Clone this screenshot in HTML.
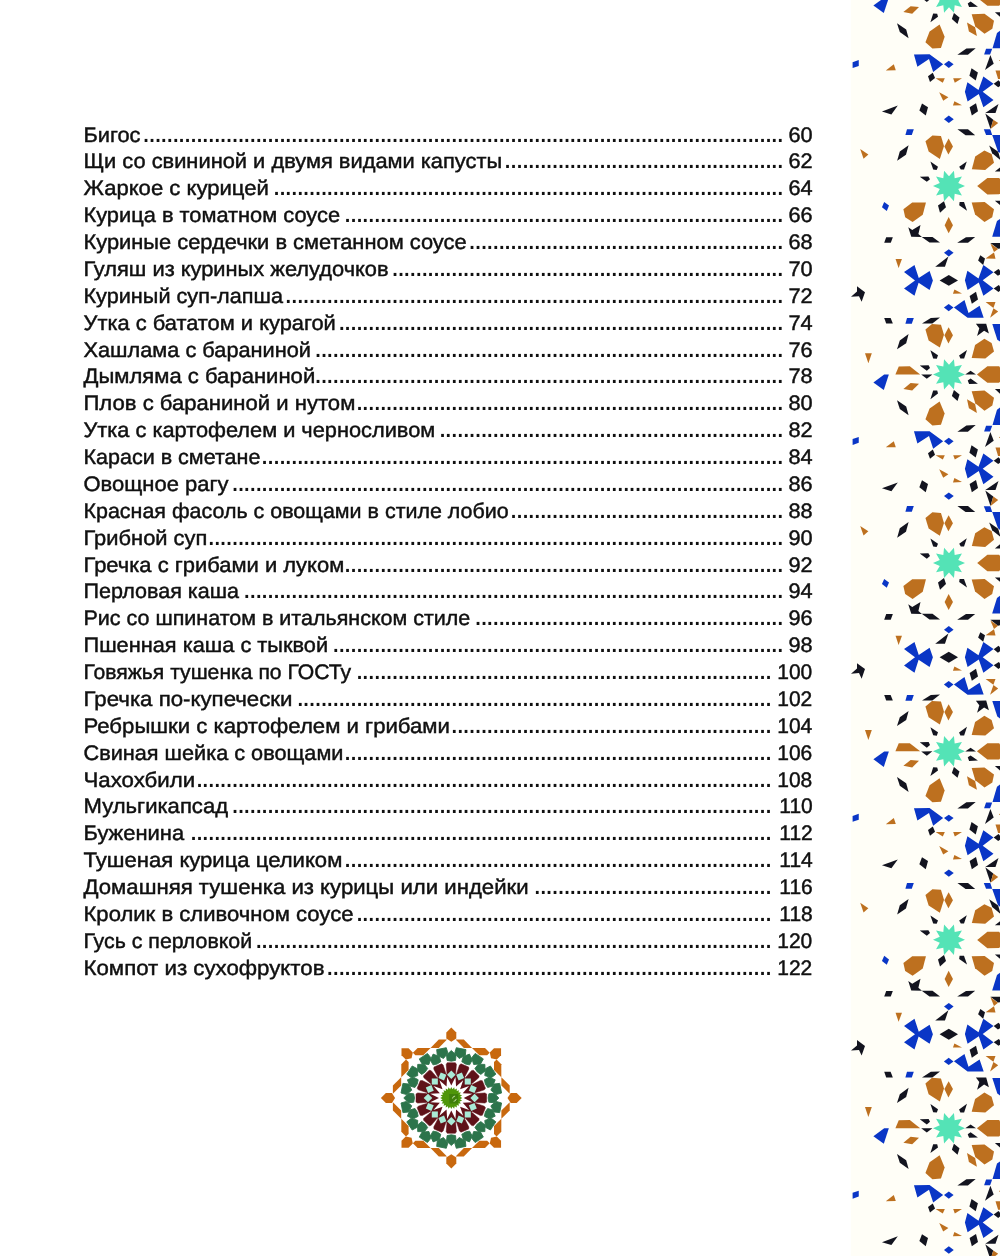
<!DOCTYPE html>
<html lang="ru"><head><meta charset="utf-8"><title>Содержание</title><style>
html,body{margin:0;padding:0;background:#fff}
body{width:1000px;height:1256px;position:relative;overflow:hidden;text-rendering:geometricPrecision;font-family:"Liberation Sans",sans-serif;color:#101010}
svg{position:absolute;left:0;top:0}
.r{position:absolute;left:0;width:1000px;height:0;font-size:21px;line-height:0}
#w{position:absolute;left:0;top:0;width:1000px;height:1256px;will-change:transform}
.r span{position:absolute;white-space:nowrap;line-height:1;top:-17px}
.t,.n{-webkit-text-stroke:0.45px #101010}
.t{transform-origin:0 100%}
.n{transform-origin:100% 100%}
.r .d{font-size:29px;letter-spacing:-2.13px;top:-23px}
</style></head><body>
<svg class="strip" width="1000" height="1256" viewBox="0 0 1000 1256">
<defs><g id="t"><polygon points="881.96,111.44 897.8,105.6 891.4,114.4" fill="#13141f"/><polygon points="907,129.2 913.8,129.2 911.8,134.96 905.4,134.96" fill="#0a36c6"/><polygon points="908.6,145.2 905.96,154.8 897.16,160.8 899.8,151.44" fill="#13141f"/><polygon points="860.2,149.04 868.36,154.4 863.56,158.64" fill="#bd701f"/><polygon points="939.2,92.24 948.4,97.36 943.2,100.8" fill="#bd701f"/><polygon points="954.4,101.2 962,105.2 952.96,105.6" fill="#bd701f"/><polygon points="922,103.44 928,107.2 925.76,115.44 919.36,110.4" fill="#13141f"/><polygon points="944,119.2 948.8,115.6 953.76,119.2 948.8,122.96" fill="#0a36c6"/><polygon points="957.44,129.2 968,129.2 975.2,135.2 965.6,135.2" fill="#13141f"/><polygon points="969.6,107.2 976,103.2 978,111.2 971.84,115.44" fill="#13141f"/><polygon points="925.44,141.2 932.4,135.44 940.96,136 944,146 939.84,158.96 928.64,151.6" fill="#bd701f"/><polygon points="948.64,138.4 952.96,146.4 948.4,154.4 944.4,146.4" fill="#bd701f"/><polygon points="975.2,156.4 984.4,150.4 991.6,154 994,162.8 985.2,170 971.84,169.2" fill="#bd701f"/><polygon points="930.4,161.6 938,166.8 936.64,170 933.2,169.6" fill="#13141f"/><polygon points="966.8,161.44 964,169.6 960.8,169.6 959.2,166.8" fill="#13141f"/><polygon points="919.76,176.64 928.4,176.4 930,179.2 926.8,181.84" fill="#13141f"/><polygon points="985.3,113.1 998.5,104.1 995.5,113.1" fill="#13141f"/><polygon points="985.3,113.52 993.28,119.7 990.52,129" fill="#13141f"/><polygon points="993.28,119.7 998.2,123.12 990.52,129" fill="#bd701f"/><polygon points="983.8,129.3 990.28,129.3 992.2,135 986.08,135" fill="#0a36c6"/><polygon points="992.2,135.12 1000.6,135.12 1000.6,153.6 997.9,151.2" fill="#0a36c6"/><polygon points="989.2,145.5 998.2,151.8 1000.6,160.2 992.2,153.3" fill="#13141f"/><polygon points="977.2,186.12 987.4,177.9 999.1,177.9 1006,186.12 999.1,194.28 987.4,194.4" fill="#bd701f"/><polygon points="994.9,171.48 1000.3,167.16 1000.3,171.48" fill="#13141f"/><polygon points="994.9,200.7 1000.3,200.7 1000.3,205.2" fill="#13141f"/><polygon points="971.68,202.5 984.7,202.08 994,209.28 992.2,217.2 984.52,222 975.1,214.5" fill="#bd701f"/><polygon points="992.2,236.7 997,221.1 1000.3,218.7 1000.3,236.7" fill="#0a36c6"/><polygon points="944,201.2 946,207.2 940,212.8 938,205.6" fill="#13141f"/><polygon points="959.6,202 964,202 967.04,210.64 959.2,205.2" fill="#13141f"/><polygon points="948.64,217.04 952.96,225.2 948.64,233.2 944.64,225.2" fill="#bd701f"/><polygon points="957.2,242.8 966,237.2 975.2,237.04 968,242.8" fill="#13141f"/><polygon points="944,252.8 948.8,249.2 953.6,252.8 948.8,256.4" fill="#0a36c6"/><polygon points="935.2,266.8 948.4,256.56 944.96,266.8" fill="#13141f"/><polygon points="939.6,280.4 948.8,274.96 958,280.4 948.8,285.84" fill="#13141f"/><polygon points="884.2,202 889,205.6 886.76,210.96 881.96,207.2" fill="#0a36c6"/><polygon points="903.4,209.2 912.2,202.4 925.96,202.4 922.76,214.8 912.6,222 905.16,217.2" fill="#bd701f"/><polygon points="886.2,237.2 892.84,237.2 890.76,242.8 884.2,242.8" fill="#13141f"/><polygon points="895.56,258.96 901.96,258.96 898.6,268" fill="#bd701f"/><polygon points="851,296.8 857,291.6 857,286.24 865,292.16 861.64,301.76 859,296.16" fill="#13141f"/><polygon points="884.2,318 890.6,318 892.84,323.6 886.2,323.6" fill="#13141f"/><polygon points="907,318 913.8,318 911.8,323.76 905.4,323.76" fill="#0a36c6"/><polygon points="908.6,334 906.2,343.2 897,349.2 899.8,340.4" fill="#13141f"/><polygon points="993.7,272.32 998.5,268.9 1002.4,272.8 997.9,275.8" fill="#13141f"/><polygon points="993.7,288.4 998.8,285.1 1002.4,289 998.5,292" fill="#13141f"/><polygon points="978.1,260.5 980.32,255.28 985,258.4 983.2,264.88" fill="#13141f"/><polygon points="990.4,243.52 998.08,248.92 994,252.1" fill="#bd701f"/><polygon points="994,252.4 995.5,258.7 985.6,258.4" fill="#bd701f"/><polygon points="990.4,242.92 1000.3,242.92 1000.3,248.32 998.08,248.8" fill="#13141f"/><polygon points="954.4,289.6 962,293.6 952.96,293.76" fill="#bd701f"/><polygon points="969.6,296 976,291.84 978,299.6 971.84,303.84" fill="#13141f"/><polygon points="922,323.6 930.8,318 940,317.6 932.4,323.6" fill="#13141f"/><polygon points="925.44,329.6 932,324 940.96,324.64 944,334.8 939.84,347.6 928.64,340.4" fill="#bd701f"/><polygon points="948.64,327.36 952.96,335.2 948.4,343.6 944.4,335.2" fill="#bd701f"/><polygon points="930.4,350.24 938,355.36 936.8,358.8 933.2,358.4" fill="#13141f"/><polygon points="943.9,307.6 948.7,304 953.5,307.6 948.7,311.32" fill="#0a36c6"/><polygon points="953.92,307.48 964.48,300.1 968.5,313 979.6,305.8 983.68,317.68 967.6,317.8" fill="#0a36c6"/><polygon points="985.6,302.08 995.5,302.08 993.4,307.9" fill="#bd701f"/><polygon points="993.4,308.2 998.2,311.5 990.1,317.8" fill="#bd701f"/><polygon points="975.88,323.8 986.2,323.68 988.9,333.4 984.1,330.7 977.08,335.92 979.3,328.3" fill="#13141f"/><polygon points="992.32,324.1 1000.3,324.1 1000.3,341.8 997.3,339.7" fill="#0a36c6"/><polygon points="975.1,345.1 984.4,338.8 991.6,343 994,351.4 985.3,358.6 971.68,358" fill="#bd701f"/><polygon points="959.08,355.6 967,349.9 964.12,358.6 960.4,358.6" fill="#13141f"/><polygon points="865,353.2 871.8,353.2 868.36,363.2" fill="#bd701f"/><polygon points="895.4,374.4 898.76,366.4 909.8,366.24 920.2,374.4" fill="#bd701f"/><polygon points="873.4,382.4 884.2,374.56 888.84,374.56 883.8,390" fill="#0a36c6"/><polygon points="903.4,388.96 910.6,383.04 919,383.84 912.2,390.56" fill="#bd701f"/><polygon points="897,400.16 906.2,406.4 908.6,415.2 899.8,408.96" fill="#13141f"/><polygon points="919.76,365.44 928.64,365.2 930,368 926.8,370.8" fill="#13141f"/><polygon points="921.2,374.56 932.4,374.4 926.8,378.8" fill="#13141f"/><polygon points="933.2,390.4 937.2,390.56 938,393.6 930.4,399.2" fill="#13141f"/><polygon points="925.44,419.2 929.6,408.4 939.6,401.44 944.64,413.6 940.96,424.8 932.4,425.44" fill="#bd701f"/><polygon points="965.2,374.52 970.6,370.8 976,374.52" fill="#13141f"/><polygon points="967.72,380.4 970.6,378.48 977.92,383.7 969.1,384" fill="#13141f"/><polygon points="976.9,374.4 987.4,366.3 999.1,366.3 1006,374.4 999.1,382.68 987.4,382.68" fill="#bd701f"/><polygon points="994.9,389.1 1000.3,389.1 1000.3,393.9" fill="#13141f"/><polygon points="971.68,391.2 984.52,390.6 994,397.68 992.32,405.6 984.52,410.7 975.28,403.32" fill="#bd701f"/><polygon points="967,399.3 975.1,404.1 976.9,412.92 968.92,408.3" fill="#bd701f"/><polygon points="953.92,390 959.5,394.5 957.52,400.92 951.88,396" fill="#13141f"/><polygon points="957.4,431.7 966.4,425.4 975.7,425.1 967.9,431.7" fill="#13141f"/><polygon points="986.08,425.7 992.2,425.7 990.1,431.4 984.1,431.4" fill="#0a36c6"/><polygon points="992.5,425.1 997,409.8 1000.3,407.4 1000.3,425.1" fill="#0a36c6"/><polygon points="852.6,439.04 858.76,436.96 858.76,442.8 852.6,444.96" fill="#0a36c6"/><polygon points="885.8,447.36 893.8,441.2 895.8,447.2" fill="#bd701f"/><polygon points="913.96,431.36 929.56,431.2 943.16,441.2 933.16,448.8 929,436 917.4,443.6" fill="#0a36c6"/><polygon points="944,441.2 948.8,437.76 953.6,441.2 948.8,444.96" fill="#0a36c6"/><polygon points="928,453.2 932.8,449.6 935.04,454.8 930,458.8" fill="#13141f"/><polygon points="935.6,455.2 944.8,455.2 942.8,459.6" fill="#bd701f"/><polygon points="953.2,455.2 962,455.2 954.8,459.6" fill="#bd701f"/><polygon points="990.4,432 993.7,440.7 985,447" fill="#13141f"/><polygon points="995.5,447.48 1000.3,447.48 1000.3,456 998.08,456" fill="#bd701f"/><polygon points="998.8,437.4 1000.3,436.68 1000.3,438.12" fill="#bd701f"/><polygon points="971.5,445.2 977.92,449.4 975.7,457.5 969.4,452.7" fill="#13141f"/><polygon points="993.7,460.68 998.5,457.2 1002.4,461.1 998.2,464.1" fill="#13141f"/><polygon points="904,272.1 914.5,265 918.75,278 929.6,270.9 932.9,280.4 929.6,290 918.6,282.75 914.5,295.75 904,288.5 915,280.4" fill="#0a36c6"/><polygon points="964.9,280.3 967.4,270.8 978.5,278.4 983.35,265 993.5,272.2 982.7,280.3 993.5,288.4 983.35,295.8 978.8,282.5 967.6,290" fill="#0a36c6"/><polygon points="964.9,468.75 967.4,459.25 978.5,466.85 983.35,453.45 993.5,460.65 982.7,468.75 993.5,476.85 983.35,484.25 978.8,470.95 967.6,478.45" fill="#0a36c6"/><polygon points="908.25,227.25 912.25,230 920.5,225 918.4,234 921.9,237 911.25,236.75" fill="#13141f"/><polygon points="921.7,236.9 932.5,236.9 940,242.6 929.5,242.6" fill="#13141f"/><polygon points="965,186 958.23,189 961.94,195.4 954.7,193.85 953.94,201.22 949,195.7 944.06,201.22 943.3,193.85 936.06,195.4 939.77,189 933,186 939.77,183 936.06,176.6 943.3,178.15 944.06,170.78 949,176.3 953.94,170.78 954.7,178.15 961.94,176.6 958.23,183" fill="#54e3b6"/><polygon points="965,374.4 958.23,377.4 961.94,383.8 954.7,382.25 953.94,389.62 949,384.1 944.06,389.62 943.3,382.25 936.06,383.8 939.77,377.4 933,374.4 939.77,371.4 936.06,365 943.3,366.55 944.06,359.18 949,364.7 953.94,359.18 954.7,366.55 961.94,365 958.23,371.4" fill="#54e3b6"/></g><clipPath id="c"><rect x="850.8" y="0" width="149.2" height="1256"/></clipPath></defs>
<rect x="850.8" y="0" width="149.2" height="1256" fill="#fffef7"/>
<g clip-path="url(#c)">
<use href="#t" y="-376.9"/>
<use href="#t" y="0"/>
<use href="#t" y="376.9"/>
<use href="#t" y="753.8"/>
<use href="#t" y="1130.7"/>
</g></svg>
<svg class="ros" width="1000" height="1256" viewBox="0 0 1000 1256"><polygon points="451.3,1027.6 456.3,1032.6 456.3,1038.6 451.3,1041.8 446.3,1038.6 446.3,1032.6" fill="#c8680e"/><polygon points="501.08,1048.22 501.08,1055.29 496.84,1059.53 491.04,1058.26 489.77,1052.46 494.01,1048.22" fill="#c8680e"/><polygon points="521.7,1098 516.7,1103 510.7,1103 507.5,1098 510.7,1093 516.7,1093" fill="#c8680e"/><polygon points="501.08,1147.78 494.01,1147.78 489.77,1143.54 491.04,1137.74 496.84,1136.47 501.08,1140.71" fill="#c8680e"/><polygon points="451.3,1168.4 446.3,1163.4 446.3,1157.4 451.3,1154.2 456.3,1157.4 456.3,1163.4" fill="#c8680e"/><polygon points="401.52,1147.78 401.52,1140.71 405.76,1136.47 411.56,1137.74 412.83,1143.54 408.59,1147.78" fill="#c8680e"/><polygon points="380.9,1098 385.9,1093 391.9,1093 395.1,1098 391.9,1103 385.9,1103" fill="#c8680e"/><polygon points="401.52,1048.22 408.59,1048.22 412.83,1052.46 411.56,1058.26 405.76,1059.53 401.52,1055.29" fill="#c8680e"/><polygon points="455.6,1039.6 463.8,1039.6 472.1,1047.9 463.9,1047.9" fill="#c8680e"/><polygon points="438.7,1047.9 430.5,1047.9 438.8,1039.6 447,1039.6" fill="#c8680e"/><polygon points="472,1048 485,1048 489.7,1052.7 487.2,1055.3 479.3,1055.3" fill="#c8680e"/><polygon points="494,1070 494,1062.1 496.6,1059.6 501.3,1064.3 501.3,1077.3" fill="#c8680e"/><polygon points="509.7,1102.3 509.7,1110.5 501.4,1118.8 501.4,1110.6" fill="#c8680e"/><polygon points="501.4,1085.4 501.4,1077.2 509.7,1085.5 509.7,1093.7" fill="#c8680e"/><polygon points="501.3,1118.7 501.3,1131.7 496.6,1136.4 494,1133.9 494,1126" fill="#c8680e"/><polygon points="479.3,1140.7 487.2,1140.7 489.7,1143.3 485,1148 472,1148" fill="#c8680e"/><polygon points="447,1156.4 438.8,1156.4 430.5,1148.1 438.7,1148.1" fill="#c8680e"/><polygon points="463.9,1148.1 472.1,1148.1 463.8,1156.4 455.6,1156.4" fill="#c8680e"/><polygon points="430.6,1148 417.6,1148 412.9,1143.3 415.4,1140.7 423.3,1140.7" fill="#c8680e"/><polygon points="408.6,1126 408.6,1133.9 406,1136.4 401.3,1131.7 401.3,1118.7" fill="#c8680e"/><polygon points="392.9,1093.7 392.9,1085.5 401.2,1077.2 401.2,1085.4" fill="#c8680e"/><polygon points="401.2,1110.6 401.2,1118.8 392.9,1110.5 392.9,1102.3" fill="#c8680e"/><polygon points="401.3,1077.3 401.3,1064.3 406,1059.6 408.6,1062.1 408.6,1070" fill="#c8680e"/><polygon points="423.3,1055.3 415.4,1055.3 412.9,1052.7 417.6,1048 430.6,1048" fill="#c8680e"/><polygon points="451.3,1050.5 456.1,1055.1 455.5,1060.4 451.3,1061.2 447.1,1060.4 446.5,1055.1" fill="#2c744b" stroke="#2c744b" stroke-width="0.9" stroke-linejoin="round"/><polygon points="456.31,1047.71 465.92,1049.62 465.3,1055.31 459.16,1058.47 454.7,1053.2" fill="#2c744b" stroke="#2c744b" stroke-width="0.9" stroke-linejoin="round"/><polygon points="469.48,1054.12 472.15,1060.2 469.57,1064.87 465.38,1064 461.81,1061.65 463.28,1056.53" fill="#2c744b" stroke="#2c744b" stroke-width="0.9" stroke-linejoin="round"/><polygon points="475.17,1053.45 483.32,1058.9 480.57,1063.92 473.69,1064.49 471.59,1057.92" fill="#2c744b" stroke="#2c744b" stroke-width="0.9" stroke-linejoin="round"/><polygon points="484.89,1064.41 485.03,1071.06 480.86,1074.38 477.32,1071.98 474.92,1068.44 478.24,1064.27" fill="#2c744b" stroke="#2c744b" stroke-width="0.9" stroke-linejoin="round"/><polygon points="490.4,1065.98 495.85,1074.13 491.38,1077.71 484.81,1075.61 485.38,1068.73" fill="#2c744b" stroke="#2c744b" stroke-width="0.9" stroke-linejoin="round"/><polygon points="495.18,1079.82 492.77,1086.02 487.65,1087.49 485.3,1083.92 484.43,1079.73 489.1,1077.15" fill="#2c744b" stroke="#2c744b" stroke-width="0.9" stroke-linejoin="round"/><polygon points="499.68,1083.38 501.59,1092.99 496.1,1094.6 490.83,1090.14 493.99,1084" fill="#2c744b" stroke="#2c744b" stroke-width="0.9" stroke-linejoin="round"/><polygon points="498.8,1098 494.2,1102.8 488.9,1102.2 488.1,1098 488.9,1093.8 494.2,1093.2" fill="#2c744b" stroke="#2c744b" stroke-width="0.9" stroke-linejoin="round"/><polygon points="501.59,1103.01 499.68,1112.62 493.99,1112 490.83,1105.86 496.1,1101.4" fill="#2c744b" stroke="#2c744b" stroke-width="0.9" stroke-linejoin="round"/><polygon points="495.18,1116.18 489.1,1118.85 484.43,1116.27 485.3,1112.08 487.65,1108.51 492.77,1109.98" fill="#2c744b" stroke="#2c744b" stroke-width="0.9" stroke-linejoin="round"/><polygon points="495.85,1121.87 490.4,1130.02 485.38,1127.27 484.81,1120.39 491.38,1118.29" fill="#2c744b" stroke="#2c744b" stroke-width="0.9" stroke-linejoin="round"/><polygon points="484.89,1131.59 478.24,1131.73 474.92,1127.56 477.32,1124.02 480.86,1121.62 485.03,1124.94" fill="#2c744b" stroke="#2c744b" stroke-width="0.9" stroke-linejoin="round"/><polygon points="483.32,1137.1 475.17,1142.55 471.59,1138.08 473.69,1131.51 480.57,1132.08" fill="#2c744b" stroke="#2c744b" stroke-width="0.9" stroke-linejoin="round"/><polygon points="469.48,1141.88 463.28,1139.47 461.81,1134.35 465.38,1132 469.57,1131.13 472.15,1135.8" fill="#2c744b" stroke="#2c744b" stroke-width="0.9" stroke-linejoin="round"/><polygon points="465.92,1146.38 456.31,1148.29 454.7,1142.8 459.16,1137.53 465.3,1140.69" fill="#2c744b" stroke="#2c744b" stroke-width="0.9" stroke-linejoin="round"/><polygon points="451.3,1145.5 446.5,1140.9 447.1,1135.6 451.3,1134.8 455.5,1135.6 456.1,1140.9" fill="#2c744b" stroke="#2c744b" stroke-width="0.9" stroke-linejoin="round"/><polygon points="446.29,1148.29 436.68,1146.38 437.3,1140.69 443.44,1137.53 447.9,1142.8" fill="#2c744b" stroke="#2c744b" stroke-width="0.9" stroke-linejoin="round"/><polygon points="433.12,1141.88 430.45,1135.8 433.03,1131.13 437.22,1132 440.79,1134.35 439.32,1139.47" fill="#2c744b" stroke="#2c744b" stroke-width="0.9" stroke-linejoin="round"/><polygon points="427.43,1142.55 419.28,1137.1 422.03,1132.08 428.91,1131.51 431.01,1138.08" fill="#2c744b" stroke="#2c744b" stroke-width="0.9" stroke-linejoin="round"/><polygon points="417.71,1131.59 417.57,1124.94 421.74,1121.62 425.28,1124.02 427.68,1127.56 424.36,1131.73" fill="#2c744b" stroke="#2c744b" stroke-width="0.9" stroke-linejoin="round"/><polygon points="412.2,1130.02 406.75,1121.87 411.22,1118.29 417.79,1120.39 417.22,1127.27" fill="#2c744b" stroke="#2c744b" stroke-width="0.9" stroke-linejoin="round"/><polygon points="407.42,1116.18 409.83,1109.98 414.95,1108.51 417.3,1112.08 418.17,1116.27 413.5,1118.85" fill="#2c744b" stroke="#2c744b" stroke-width="0.9" stroke-linejoin="round"/><polygon points="402.92,1112.62 401.01,1103.01 406.5,1101.4 411.77,1105.86 408.61,1112" fill="#2c744b" stroke="#2c744b" stroke-width="0.9" stroke-linejoin="round"/><polygon points="403.8,1098 408.4,1093.2 413.7,1093.8 414.5,1098 413.7,1102.2 408.4,1102.8" fill="#2c744b" stroke="#2c744b" stroke-width="0.9" stroke-linejoin="round"/><polygon points="401.01,1092.99 402.92,1083.38 408.61,1084 411.77,1090.14 406.5,1094.6" fill="#2c744b" stroke="#2c744b" stroke-width="0.9" stroke-linejoin="round"/><polygon points="407.42,1079.82 413.5,1077.15 418.17,1079.73 417.3,1083.92 414.95,1087.49 409.83,1086.02" fill="#2c744b" stroke="#2c744b" stroke-width="0.9" stroke-linejoin="round"/><polygon points="406.75,1074.13 412.2,1065.98 417.22,1068.73 417.79,1075.61 411.22,1077.71" fill="#2c744b" stroke="#2c744b" stroke-width="0.9" stroke-linejoin="round"/><polygon points="417.71,1064.41 424.36,1064.27 427.68,1068.44 425.28,1071.98 421.74,1074.38 417.57,1071.06" fill="#2c744b" stroke="#2c744b" stroke-width="0.9" stroke-linejoin="round"/><polygon points="419.28,1058.9 427.43,1053.45 431.01,1057.92 428.91,1064.49 422.03,1063.92" fill="#2c744b" stroke="#2c744b" stroke-width="0.9" stroke-linejoin="round"/><polygon points="433.12,1054.12 439.32,1056.53 440.79,1061.65 437.22,1064 433.03,1064.87 430.45,1060.2" fill="#2c744b" stroke="#2c744b" stroke-width="0.9" stroke-linejoin="round"/><polygon points="436.68,1049.62 446.29,1047.71 447.9,1053.2 443.44,1058.47 437.3,1055.31" fill="#2c744b" stroke="#2c744b" stroke-width="0.9" stroke-linejoin="round"/><polygon points="446.9,1073 446.2,1064.4 447.2,1062.7 455.4,1062.7 456.4,1064.4 455.7,1073 454.3,1076 451.3,1077.5 448.3,1076" fill="#5f1219" stroke="#5f1219" stroke-width="0.5" stroke-linejoin="round"/><polygon points="456.8,1073.22 459.45,1065.01 461.02,1063.82 468.6,1066.96 468.87,1068.91 464.93,1076.59 462.49,1078.82 459.15,1079.06 456.95,1076.53" fill="#5f1219" stroke="#5f1219" stroke-width="0.5" stroke-linejoin="round"/><polygon points="465.87,1077.21 471.45,1070.63 473.36,1070.14 479.16,1075.94 478.67,1077.85 472.09,1083.43 468.98,1084.56 465.8,1083.5 464.74,1080.32" fill="#5f1219" stroke="#5f1219" stroke-width="0.5" stroke-linejoin="round"/><polygon points="472.71,1084.37 480.39,1080.43 482.34,1080.7 485.48,1088.28 484.29,1089.85 476.08,1092.5 472.77,1092.35 470.24,1090.15 470.48,1086.81" fill="#5f1219" stroke="#5f1219" stroke-width="0.5" stroke-linejoin="round"/><polygon points="476.3,1093.6 484.9,1092.9 486.6,1093.9 486.6,1102.1 484.9,1103.1 476.3,1102.4 473.3,1101 471.8,1098 473.3,1095" fill="#5f1219" stroke="#5f1219" stroke-width="0.5" stroke-linejoin="round"/><polygon points="476.08,1103.5 484.29,1106.15 485.48,1107.72 482.34,1115.3 480.39,1115.57 472.71,1111.63 470.48,1109.19 470.24,1105.85 472.77,1103.65" fill="#5f1219" stroke="#5f1219" stroke-width="0.5" stroke-linejoin="round"/><polygon points="472.09,1112.57 478.67,1118.15 479.16,1120.06 473.36,1125.86 471.45,1125.37 465.87,1118.79 464.74,1115.68 465.8,1112.5 468.98,1111.44" fill="#5f1219" stroke="#5f1219" stroke-width="0.5" stroke-linejoin="round"/><polygon points="464.93,1119.41 468.87,1127.09 468.6,1129.04 461.02,1132.18 459.45,1130.99 456.8,1122.78 456.95,1119.47 459.15,1116.94 462.49,1117.18" fill="#5f1219" stroke="#5f1219" stroke-width="0.5" stroke-linejoin="round"/><polygon points="455.7,1123 456.4,1131.6 455.4,1133.3 447.2,1133.3 446.2,1131.6 446.9,1123 448.3,1120 451.3,1118.5 454.3,1120" fill="#5f1219" stroke="#5f1219" stroke-width="0.5" stroke-linejoin="round"/><polygon points="445.8,1122.78 443.15,1130.99 441.58,1132.18 434,1129.04 433.73,1127.09 437.67,1119.41 440.11,1117.18 443.45,1116.94 445.65,1119.47" fill="#5f1219" stroke="#5f1219" stroke-width="0.5" stroke-linejoin="round"/><polygon points="436.73,1118.79 431.15,1125.37 429.24,1125.86 423.44,1120.06 423.93,1118.15 430.51,1112.57 433.62,1111.44 436.8,1112.5 437.86,1115.68" fill="#5f1219" stroke="#5f1219" stroke-width="0.5" stroke-linejoin="round"/><polygon points="429.89,1111.63 422.21,1115.57 420.26,1115.3 417.12,1107.72 418.31,1106.15 426.52,1103.5 429.83,1103.65 432.36,1105.85 432.12,1109.19" fill="#5f1219" stroke="#5f1219" stroke-width="0.5" stroke-linejoin="round"/><polygon points="426.3,1102.4 417.7,1103.1 416,1102.1 416,1093.9 417.7,1092.9 426.3,1093.6 429.3,1095 430.8,1098 429.3,1101" fill="#5f1219" stroke="#5f1219" stroke-width="0.5" stroke-linejoin="round"/><polygon points="426.52,1092.5 418.31,1089.85 417.12,1088.28 420.26,1080.7 422.21,1080.43 429.89,1084.37 432.12,1086.81 432.36,1090.15 429.83,1092.35" fill="#5f1219" stroke="#5f1219" stroke-width="0.5" stroke-linejoin="round"/><polygon points="430.51,1083.43 423.93,1077.85 423.44,1075.94 429.24,1070.14 431.15,1070.63 436.73,1077.21 437.86,1080.32 436.8,1083.5 433.62,1084.56" fill="#5f1219" stroke="#5f1219" stroke-width="0.5" stroke-linejoin="round"/><polygon points="437.67,1076.59 433.73,1068.91 434,1066.96 441.58,1063.82 443.15,1065.01 445.8,1073.22 445.65,1076.53 443.45,1079.06 440.11,1078.82" fill="#5f1219" stroke="#5f1219" stroke-width="0.5" stroke-linejoin="round"/><circle cx="451.3" cy="1098" r="24.8" fill="#5f1219"/><polygon points="455.47,1077.01 456.05,1086.54 463.19,1080.21 460.07,1089.23 469.09,1086.11 462.76,1093.25 472.29,1093.83 463.7,1098 472.29,1102.17 462.76,1102.75 469.09,1109.89 460.07,1106.77 463.19,1115.79 456.05,1109.46 455.47,1118.99 451.3,1110.4 447.13,1118.99 446.55,1109.46 439.41,1115.79 442.53,1106.77 433.51,1109.89 439.84,1102.75 430.31,1102.17 438.9,1098 430.31,1093.83 439.84,1093.25 433.51,1086.11 442.53,1089.23 439.41,1080.21 446.55,1086.54 447.13,1077.01 451.3,1085.6" fill="#ffffff"/><polygon points="451.3,1070.4 455.6,1074.7 451.3,1079 447,1074.7" fill="#a9ead6"/><polygon points="461.86,1072.5 464.19,1078.12 458.57,1080.45 456.24,1074.83" fill="#a9ead6"/><polygon points="470.82,1078.48 470.82,1084.56 464.74,1084.56 464.74,1078.48" fill="#a9ead6"/><polygon points="476.8,1087.44 474.47,1093.06 468.85,1090.73 471.18,1085.11" fill="#a9ead6"/><polygon points="478.9,1098 474.6,1102.3 470.3,1098 474.6,1093.7" fill="#a9ead6"/><polygon points="476.8,1108.56 471.18,1110.89 468.85,1105.27 474.47,1102.94" fill="#a9ead6"/><polygon points="470.82,1117.52 464.74,1117.52 464.74,1111.44 470.82,1111.44" fill="#a9ead6"/><polygon points="461.86,1123.5 456.24,1121.17 458.57,1115.55 464.19,1117.88" fill="#a9ead6"/><polygon points="451.3,1125.6 447,1121.3 451.3,1117 455.6,1121.3" fill="#a9ead6"/><polygon points="440.74,1123.5 438.41,1117.88 444.03,1115.55 446.36,1121.17" fill="#a9ead6"/><polygon points="431.78,1117.52 431.78,1111.44 437.86,1111.44 437.86,1117.52" fill="#a9ead6"/><polygon points="425.8,1108.56 428.13,1102.94 433.75,1105.27 431.42,1110.89" fill="#a9ead6"/><polygon points="423.7,1098 428,1093.7 432.3,1098 428,1102.3" fill="#a9ead6"/><polygon points="425.8,1087.44 431.42,1085.11 433.75,1090.73 428.13,1093.06" fill="#a9ead6"/><polygon points="431.78,1078.48 437.86,1078.48 437.86,1084.56 431.78,1084.56" fill="#a9ead6"/><polygon points="440.74,1072.5 446.36,1074.83 444.03,1080.45 438.41,1078.12" fill="#a9ead6"/><polygon points="451.3,1086.9 452.46,1089.18 454.17,1087.28 454.71,1089.78 456.85,1088.39 456.72,1090.94 459.15,1090.15 458.36,1092.58 460.91,1092.45 459.52,1094.59 462.02,1095.13 460.12,1096.84 462.4,1098 460.12,1099.16 462.02,1100.87 459.52,1101.41 460.91,1103.55 458.36,1103.42 459.15,1105.85 456.72,1105.06 456.85,1107.61 454.71,1106.22 454.17,1108.72 452.46,1106.82 451.3,1109.1 450.14,1106.82 448.43,1108.72 447.89,1106.22 445.75,1107.61 445.88,1105.06 443.45,1105.85 444.24,1103.42 441.69,1103.55 443.08,1101.41 440.58,1100.87 442.48,1099.16 440.2,1098 442.48,1096.84 440.58,1095.13 443.08,1094.59 441.69,1092.45 444.24,1092.58 443.45,1090.15 445.88,1090.94 445.75,1088.39 447.89,1089.78 448.43,1087.28 450.14,1089.18" fill="#4f960a"/><rect x="449.3" y="1094" width="8.75" height="9.5" fill="#3e7f0a"/><path d="M452.5 1098.1 q0.3 -1.9 2.2 -2.0 M456.2 1099.3 q-0.3 1.9 -2.2 2.0" fill="none" stroke="#cfe6b4" stroke-width="0.9" stroke-linecap="round"/></svg>
<div id="w">
<div class="r" style="top:142px"><span class="t" style="left:83px;transform:translate(0.5px,0px) scaleX(1.0385)">Бигос</span><span class="d" style="right:217px;transform:translate(-0.8px,0px)">............................................................................................................</span><span class="n" style="right:187px;transform:translate(-0.75px,0px) scaleX(1.035)">60</span></div>
<div class="r" style="top:168px"><span class="t" style="left:83px;transform:translate(0.5px,0px) scaleX(1.0402)">Щи со свининой и двумя видами капусты</span><span class="d" style="right:217px;transform:translate(-0.8px,0px)">...............................................</span><span class="n" style="right:187px;transform:translate(-0.75px,0px) scaleX(1.035)">62</span></div>
<div class="r" style="top:195px"><span class="t" style="left:83px;transform:translate(0.5px,0px) scaleX(1.0514)">Жаркое с курицей</span><span class="d" style="right:217px;transform:translate(-0.8px,0px)">......................................................................................</span><span class="n" style="right:187px;transform:translate(-0.75px,0px) scaleX(1.035)">64</span></div>
<div class="r" style="top:222px"><span class="t" style="left:83px;transform:translate(0.5px,0px) scaleX(1.0388)">Курица в томатном соусе</span><span class="d" style="right:217px;transform:translate(-0.8px,0px)">..........................................................................</span><span class="n" style="right:187px;transform:translate(-0.75px,0px) scaleX(1.035)">66</span></div>
<div class="r" style="top:249px"><span class="t" style="left:83px;transform:translate(0.5px,0px) scaleX(1.0405)">Куриные сердечки в сметанном соусе</span><span class="d" style="right:217px;transform:translate(-0.8px,0px)">.....................................................</span><span class="n" style="right:187px;transform:translate(-0.75px,0px) scaleX(1.035)">68</span></div>
<div class="r" style="top:276px"><span class="t" style="left:83px;transform:translate(0.5px,0px) scaleX(1.0398)">Гуляш из куриных желудочков</span><span class="d" style="right:217px;transform:translate(-0.8px,0px)">..................................................................</span><span class="n" style="right:187px;transform:translate(-0.75px,0px) scaleX(1.035)">70</span></div>
<div class="r" style="top:303px"><span class="t" style="left:83px;transform:translate(0.5px,0px) scaleX(1.0315)">Куриный суп-лапша</span><span class="d" style="right:217px;transform:translate(-0.8px,0px)">....................................................................................</span><span class="n" style="right:187px;transform:translate(-0.75px,0px) scaleX(1.035)">72</span></div>
<div class="r" style="top:330px"><span class="t" style="left:83px;transform:translate(0.5px,0px) scaleX(1.0411)">Утка с бататом и курагой</span><span class="d" style="right:217px;transform:translate(-0.8px,0px)">...........................................................................</span><span class="n" style="right:187px;transform:translate(-0.75px,0px) scaleX(1.035)">74</span></div>
<div class="r" style="top:357px"><span class="t" style="left:83px;transform:translate(0.5px,0px) scaleX(1.0357)">Хашлама с бараниной</span><span class="d" style="right:217px;transform:translate(-0.8px,0px)">...............................................................................</span><span class="n" style="right:187px;transform:translate(-0.75px,0px) scaleX(1.035)">76</span></div>
<div class="r" style="top:383px"><span class="t" style="left:83px;transform:translate(0.5px,0px) scaleX(1.0504)">Дымляма с бараниной</span><span class="d" style="right:217px;transform:translate(-0.8px,0px)">...............................................................................</span><span class="n" style="right:187px;transform:translate(-0.75px,0px) scaleX(1.035)">78</span></div>
<div class="r" style="top:410px"><span class="t" style="left:83px;transform:translate(0.5px,0px) scaleX(1.0515)">Плов с бараниной и нутом</span><span class="d" style="right:217px;transform:translate(-0.8px,0px)">........................................................................</span><span class="n" style="right:187px;transform:translate(-0.75px,0px) scaleX(1.035)">80</span></div>
<div class="r" style="top:437px"><span class="t" style="left:83px;transform:translate(0.5px,0px) scaleX(1.0370)">Утка с картофелем и черносливом</span><span class="d" style="right:217px;transform:translate(-0.8px,0px)">..........................................................</span><span class="n" style="right:187px;transform:translate(-0.75px,0px) scaleX(1.035)">82</span></div>
<div class="r" style="top:464px"><span class="t" style="left:83px;transform:translate(0.5px,0px) scaleX(1.0247)">Караси в сметане</span><span class="d" style="right:217px;transform:translate(-0.8px,0px)">........................................................................................</span><span class="n" style="right:187px;transform:translate(-0.75px,0px) scaleX(1.035)">84</span></div>
<div class="r" style="top:491px"><span class="t" style="left:83px;transform:translate(0.5px,0px) scaleX(1.0472)">Овощное рагу</span><span class="d" style="right:217px;transform:translate(-0.8px,0px)">.............................................................................................</span><span class="n" style="right:187px;transform:translate(-0.75px,0px) scaleX(1.035)">86</span></div>
<div class="r" style="top:518px"><span class="t" style="left:83px;transform:translate(0.5px,0px) scaleX(1.0215)">Красная фасоль с овощами в стиле лобио</span><span class="d" style="right:217px;transform:translate(-0.8px,0px)">..............................................</span><span class="n" style="right:187px;transform:translate(-0.75px,0px) scaleX(1.035)">88</span></div>
<div class="r" style="top:545px"><span class="t" style="left:83px;transform:translate(0.5px,0px) scaleX(1.0420)">Грибной суп</span><span class="d" style="right:217px;transform:translate(-0.8px,0px)">.................................................................................................</span><span class="n" style="right:187px;transform:translate(-0.75px,0px) scaleX(1.035)">90</span></div>
<div class="r" style="top:572px"><span class="t" style="left:83px;transform:translate(0.5px,0px) scaleX(1.0453)">Гречка с грибами и луком</span><span class="d" style="right:217px;transform:translate(-0.8px,0px)">..........................................................................</span><span class="n" style="right:187px;transform:translate(-0.75px,0px) scaleX(1.035)">92</span></div>
<div class="r" style="top:598px"><span class="t" style="left:83px;transform:translate(0.5px,0px) scaleX(1.0260)">Перловая каша</span><span class="d" style="right:217px;transform:translate(-0.8px,0px)">...........................................................................................</span><span class="n" style="right:187px;transform:translate(-0.75px,0px) scaleX(1.035)">94</span></div>
<div class="r" style="top:625px"><span class="t" style="left:83px;transform:translate(0.5px,0px) scaleX(1.0232)">Рис со шпинатом в итальянском стиле</span><span class="d" style="right:217px;transform:translate(-0.8px,0px)">....................................................</span><span class="n" style="right:187px;transform:translate(-0.75px,0px) scaleX(1.035)">96</span></div>
<div class="r" style="top:652px"><span class="t" style="left:83px;transform:translate(0.5px,0px) scaleX(1.0364)">Пшенная каша с тыквой</span><span class="d" style="right:217px;transform:translate(-0.8px,0px)">............................................................................</span><span class="n" style="right:187px;transform:translate(-0.75px,0px) scaleX(1.035)">98</span></div>
<div class="r" style="top:679px"><span class="t" style="left:83px;transform:translate(0.5px,0px) scaleX(1.0064)">Говяжья тушенка по ГОСТу</span><span class="d" style="right:229px;transform:translate(-0.66px,0px)">......................................................................</span><span class="n" style="right:187px;transform:translate(-0.75px,0px) scaleX(0.9998)">100</span></div>
<div class="r" style="top:706px"><span class="t" style="left:83px;transform:translate(0.5px,0px) scaleX(1.0592)">Гречка по-купечески</span><span class="d" style="right:229px;transform:translate(-0.66px,0px)">................................................................................</span><span class="n" style="right:187px;transform:translate(-0.75px,0px) scaleX(0.9998)">102</span></div>
<div class="r" style="top:733px"><span class="t" style="left:83px;transform:translate(0.5px,0px) scaleX(1.0549)">Ребрышки с картофелем и грибами</span><span class="d" style="right:229px;transform:translate(-0.66px,0px)">......................................................</span><span class="n" style="right:187px;transform:translate(-0.75px,0px) scaleX(0.9998)">104</span></div>
<div class="r" style="top:760px"><span class="t" style="left:83px;transform:translate(0.5px,0px) scaleX(1.0327)">Свиная шейка с овощами</span><span class="d" style="right:229px;transform:translate(-0.66px,0px)">........................................................................</span><span class="n" style="right:187px;transform:translate(-0.75px,0px) scaleX(0.9998)">106</span></div>
<div class="r" style="top:787px"><span class="t" style="left:83px;transform:translate(0.5px,0px) scaleX(1.0600)">Чахохбили</span><span class="d" style="right:229px;transform:translate(-0.66px,0px)">.................................................................................................</span><span class="n" style="right:187px;transform:translate(-0.75px,0px) scaleX(0.9998)">108</span></div>
<div class="r" style="top:813px"><span class="t" style="left:83px;transform:translate(0.5px,0px) scaleX(1.0514)">Мульгикапсад</span><span class="d" style="right:229px;transform:translate(-0.66px,0px)">...........................................................................................</span><span class="n" style="right:187px;transform:translate(-0.75px,0px) scaleX(0.9998)">110</span></div>
<div class="r" style="top:840px"><span class="t" style="left:83px;transform:translate(0.5px,0px) scaleX(1.0435)">Буженина</span><span class="d" style="right:229px;transform:translate(-0.66px,0px)">..................................................................................................</span><span class="n" style="right:187px;transform:translate(-0.75px,0px) scaleX(0.9998)">112</span></div>
<div class="r" style="top:867px"><span class="t" style="left:83px;transform:translate(0.5px,0px) scaleX(1.0518)">Тушеная курица целиком</span><span class="d" style="right:229px;transform:translate(-0.66px,0px)">........................................................................</span><span class="n" style="right:187px;transform:translate(-0.75px,0px) scaleX(0.9998)">114</span></div>
<div class="r" style="top:894px"><span class="t" style="left:83px;transform:translate(0.5px,0px) scaleX(1.0558)">Домашняя тушенка из курицы или индейки</span><span class="d" style="right:229px;transform:translate(-0.66px,0px)">........................................</span><span class="n" style="right:187px;transform:translate(-0.75px,0px) scaleX(0.9998)">116</span></div>
<div class="r" style="top:921px"><span class="t" style="left:83px;transform:translate(0.5px,0px) scaleX(1.0509)">Кролик в сливочном соусе</span><span class="d" style="right:229px;transform:translate(-0.66px,0px)">......................................................................</span><span class="n" style="right:187px;transform:translate(-0.75px,0px) scaleX(0.9998)">118</span></div>
<div class="r" style="top:948px"><span class="t" style="left:83px;transform:translate(0.5px,0px) scaleX(1.0155)">Гусь с перловкой</span><span class="d" style="right:229px;transform:translate(-0.66px,0px)">.......................................................................................</span><span class="n" style="right:187px;transform:translate(-0.75px,0px) scaleX(0.9998)">120</span></div>
<div class="r" style="top:975px"><span class="t" style="left:83px;transform:translate(0.5px,0px) scaleX(1.0598)">Компот из сухофруктов</span><span class="d" style="right:229px;transform:translate(-0.66px,0px)">...........................................................................</span><span class="n" style="right:187px;transform:translate(-0.75px,0px) scaleX(0.9998)">122</span></div>
</div>
</body></html>
